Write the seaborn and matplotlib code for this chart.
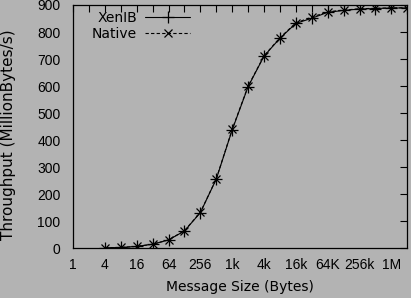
import matplotlib
matplotlib.use("Agg")
import matplotlib.pyplot as plt
import seaborn as sns
import pandas as pd
from matplotlib.ticker import FixedLocator, NullLocator, NullFormatter, FixedFormatter

sizes = [4, 8, 16, 32, 64, 128, 256, 512, 1024, 2048, 4096, 8192, 16384,
         32768, 65536, 131072, 262144, 524288, 1048576, 2097152]
xenib = [2, 3, 7, 15, 31, 64, 132, 256, 438, 598, 711, 777, 832,
         851, 873, 880, 885, 887, 889, 889]
native = [2, 3, 7, 15, 31, 65, 133, 257, 440, 600, 712, 779, 834,
          855, 875, 881, 886, 888, 889, 890]
tick_vals = [1, 4, 16, 64, 256, 1024, 4096, 16384, 65536, 262144, 1048576]
tick_labels = ["1", "4", "16", "64", "256", "1k", "4k", "16k", "64K", "256k", "1M"]

sns.set_style("white")
plt.rcParams['font.family'] = ['DejaVu Sans']
plt.rcParams['text.color'] = 'black'
plt.rcParams['axes.labelcolor'] = 'black'

bg = "#b3b3b3"
fig = plt.figure(figsize=(4.11, 2.98), dpi=100, facecolor=bg)
ax = fig.add_axes([73/411, 1-248.3/298, (407.3-73)/411, (248.3-5)/298])
ax.set_facecolor(bg)

df_x = pd.DataFrame({"size": sizes, "tp": xenib})
df_n = pd.DataFrame({"size": sizes, "tp": native})
sns.lineplot(data=df_x, x="size", y="tp", ax=ax, color="black", lw=0.8,
             marker="+", markersize=8, markeredgewidth=0.9,
             markeredgecolor="black", label="XenIB")
sns.lineplot(data=df_n, x="size", y="tp", ax=ax, color="black", lw=0.8,
             linestyle=(0, (3, 2)), marker="x", markersize=5.5,
             markeredgewidth=0.9, markeredgecolor="black", label="Native")

ax.set_xscale("log", base=2)
ax.set_xlim(1, 2**21)
ax.set_ylim(0, 900)
ax.xaxis.set_major_locator(FixedLocator(tick_vals))
ax.xaxis.set_major_formatter(FixedFormatter(tick_labels))
ax.xaxis.set_minor_locator(FixedLocator([2**k for k in range(1, 21, 2)]))
ax.xaxis.set_minor_formatter(NullFormatter())
ax.set_yticks(range(0, 901, 100))
ax.yaxis.set_minor_locator(NullLocator())
ax.tick_params(which="both", direction="in", top=True, right=True,
               length=5, width=0.8, color="black", labelsize=10,
               labelcolor="black")
ax.tick_params(axis="x", pad=7)
ax.tick_params(axis="y", pad=9)
for lab in ax.get_xticklabels() + ax.get_yticklabels():
    lab.set_family(["Liberation Sans", "DejaVu Sans"])
for s in ax.spines.values():
    s.set_color("black")
    s.set_linewidth(0.9)

ax.set_xlabel("Message Size (Bytes)", fontsize=10, labelpad=6)
ax.set_ylabel("Throughput (MillionBytes/s)", fontsize=11)
ax.yaxis.set_label_coords(-0.172, 0.468)

leg = ax.legend(loc="upper left", frameon=False, markerfirst=False,
                fontsize=10, handlelength=3.2, borderaxespad=0.0,
                labelspacing=0.15, handletextpad=0.6,
                bbox_to_anchor=(0.04, 1.0))
for t in leg.get_texts():
    t.set_color("black")

fig.savefig("out.png", dpi=100, facecolor=bg)
